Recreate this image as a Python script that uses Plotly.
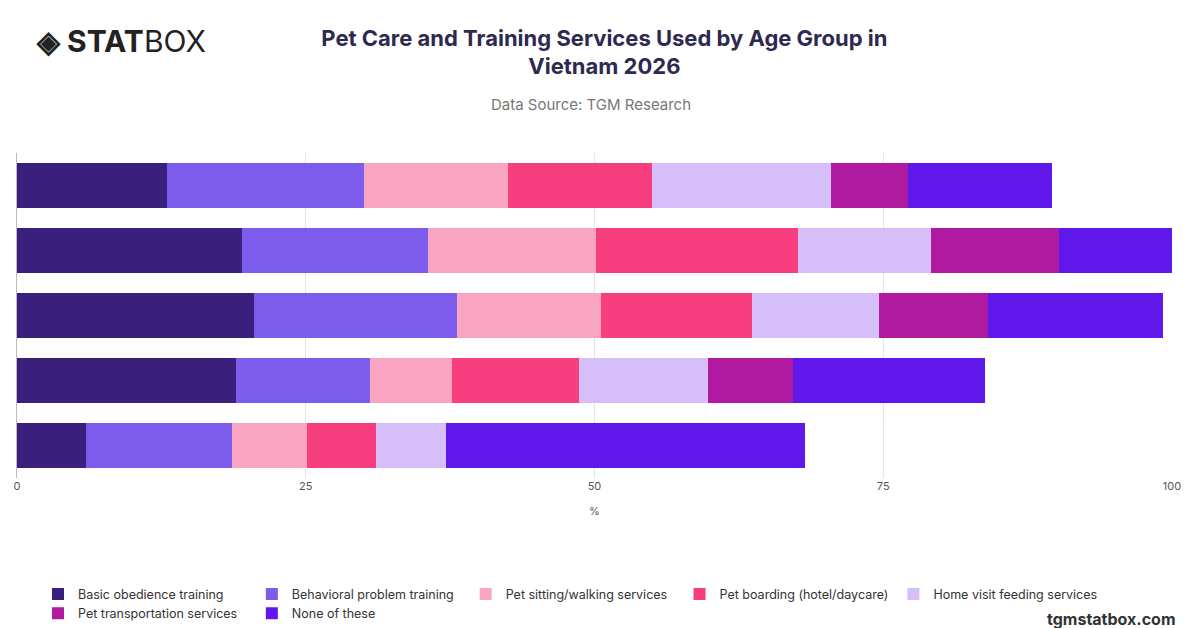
import plotly.graph_objects as go

groups = ["Gen Z", "Millennials", "Gen X", "Baby Boomers", "Silent Generation"]
series = ["Basic obedience training", "Behavioral problem training", "Pet sitting/walking services",
          "Pet boarding (hotel/daycare)", "Home visit feeding services", "Pet transportation services", "None of these"]
values = [
    [13.0, 19.5, 20.5, 19.0, 6.0],
    [17.0, 16.1, 17.6, 11.6, 12.6],
    [12.5, 14.5, 12.5, 7.1, 6.5],
    [12.5, 17.5, 13.0, 11.0, 6.0],
    [15.5, 11.5, 11.0, 11.1, 6.0],
    [6.6, 11.1, 9.5, 7.4, 0.0],
    [12.5, 10.0, 15.1, 16.6, 31.1],
]
colors = ["#3B1F7C", "#7B5CEB", "#F9A5C2", "#F73F80", "#D6BEF8", "#B01AA0", "#5F17EA"]

fig = go.Figure()
for name, vals, c in zip(series, values, colors):
    fig.add_trace(go.Bar(y=groups, x=vals, name=name, orientation="h", marker_color=c,
                         marker_line_width=0, hovertemplate="%{y}: %{x}%<extra>" + name + "</extra>"))

fig.update_layout(
    width=1200, height=628, barmode="stack", bargap=0.3,
    plot_bgcolor="white", paper_bgcolor="white",
    font=dict(family="Inter, Roboto, sans-serif", color="#555"),
    margin=dict(l=6, r=36, t=145, b=158),
    title=dict(text="<b>Pet Care and Training Services Used by Age Group in<br>Vietnam 2026</b>",
               x=0.497, xanchor="center", y=0.94, yanchor="top",
               font=dict(size=22, color="#2E2A4F")),
    xaxis=dict(range=[0, 100], tickvals=[0, 25, 50, 75, 100], showgrid=True, gridcolor="#E5E5E5",
               zeroline=False, title=dict(text="%", font=dict(size=11)), tickfont=dict(size=11)),
    yaxis=dict(autorange="reversed", showticklabels=False, showline=True, linecolor="#BBB", showgrid=False),
    legend=dict(orientation="h", xref="container", yref="container", x=0.025, y=0.09,
                xanchor="left", yanchor="top",
                font=dict(size=12.5, color="#333"), itemwidth=30, traceorder="normal"),
    showlegend=True,
)
fig.add_annotation(text="Data Source: TGM Research", xref="paper", yref="paper", x=0.497, y=1.148,
                   showarrow=False, font=dict(size=15, color="#777"), xanchor="center", yanchor="middle")
fig.add_annotation(text="<b>◈ STAT</b>BOX", xref="paper", yref="paper", x=0.015, y=1.345,
                   xanchor="left", yanchor="middle", showarrow=False, font=dict(size=30, color="#222"))
fig.add_annotation(text="<b>tgmstatbox.com</b>", xref="paper", yref="paper", x=1.005, y=-0.47,
                   xanchor="right", showarrow=False, font=dict(size=16, color="#333"))
fig.write_html("out.html")
